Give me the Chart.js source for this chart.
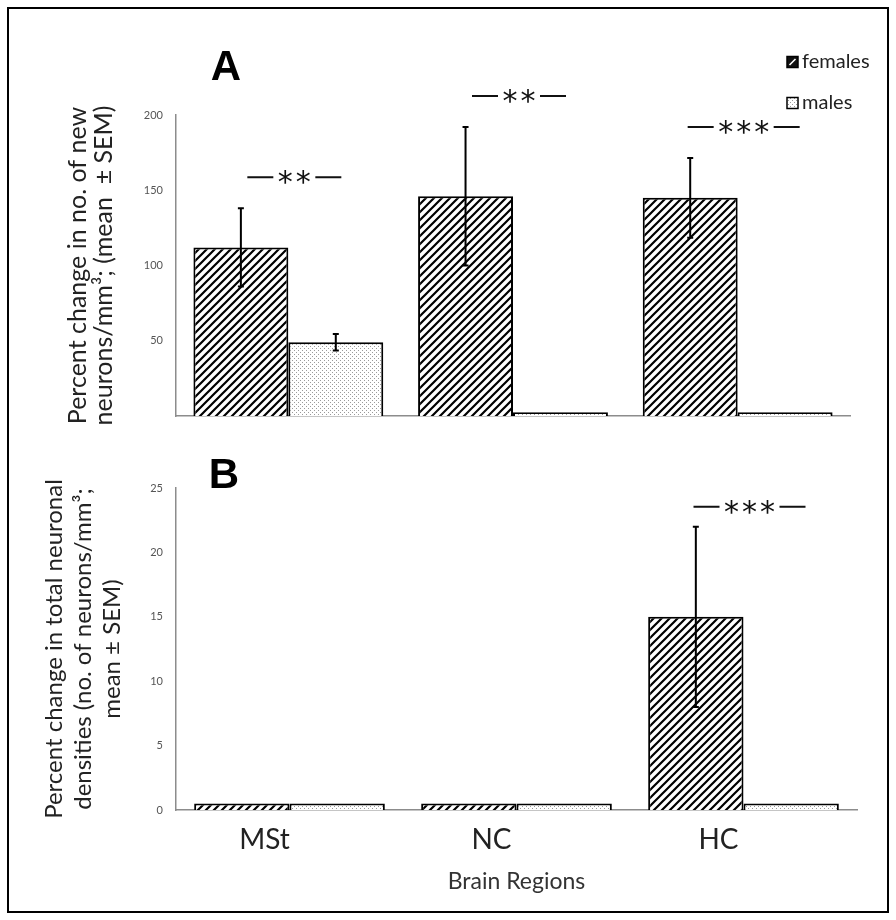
<!DOCTYPE html>
<html><head><meta charset="utf-8">
<script src="https://cdn.jsdelivr.net/npm/chart.js@4.4.1/dist/chart.umd.min.js"></script>
<style>
html,body{margin:0;padding:0;background:#fff;}
#wrap{position:relative;width:896px;height:920px;background:#fff;overflow:hidden;}
#frame{position:absolute;left:7px;top:7px;width:882px;height:906px;border:2px solid #000;box-sizing:border-box;pointer-events:none;}
#ca{position:absolute;left:0;top:0;}
#cb{position:absolute;left:0;top:440px;}
</style></head><body>
<div id="wrap">
<canvas id="ca" width="896" height="440"></canvas>
<canvas id="cb" width="896" height="480"></canvas>
<div id="frame"></div>
</div>
<script>
// ---- data ----
const categories = ['MSt', 'NC', 'HC'];
const seriesNames = ['females', 'males'];
const femalesA = [112, 146, 145];
const malesA = [49, 2.5, 2.5];
const femalesErrA = [26, 46, 26.5];
const malesErrA = [5.5, 0, 0];
const femalesB = [0.5, 0.5, 15];
const malesB = [0.5, 0.5, 0.5];
const femalesErrB = [0, 0, 7];
const malesErrB = [0, 0, 0];
const sigMarksA = ['**', '**', '***'];
const sigMarksB = ['', '', '***'];
const yTitleA = ['Percent change in no. of new', 'neurons/mm\u00B3; (mean  \u00B1 SEM)'];
const yTitleB = ['Percent change in total neuronal', 'densities (no. of neurons/mm\u00B3;', 'mean \u00B1 SEM)'];
const xTitle = 'Brain Regions';

Chart.defaults.font.family = 'Lato, "Open Sans", sans-serif';

function makeHatch() {
  const c = document.createElement('canvas'); c.width = 8; c.height = 8;
  const x = c.getContext('2d');
  x.fillStyle = '#fff'; x.fillRect(0, 0, 8, 8);
  x.strokeStyle = '#000'; x.lineWidth = 2.2;
  x.beginPath();
  x.moveTo(-1, 9); x.lineTo(9, -1);
  x.moveTo(-1, 1); x.lineTo(1, -1);
  x.moveTo(7, 9); x.lineTo(9, 7);
  x.stroke();
  return x.createPattern(c, 'repeat');
}
function makeDots() {
  const c = document.createElement('canvas'); c.width = 4; c.height = 4;
  const x = c.getContext('2d');
  x.fillStyle = '#fff'; x.fillRect(0, 0, 4, 4);
  x.fillStyle = '#9a9a9a';
  x.fillRect(0, 0, 1, 1); x.fillRect(2, 2, 1, 1);
  return x.createPattern(c, 'repeat');
}
const hatch = makeHatch();
const dots = makeDots();

const errorBars = {
  id: 'errorBars',
  afterDatasetsDraw(chart) {
    const ctx = chart.ctx, y = chart.scales.y;
    chart.data.datasets.forEach((ds, i) => {
      const meta = chart.getDatasetMeta(i);
      meta.data.forEach((bar, j) => {
        const e = ds.errors[j]; if (!e) return;
        const v = ds.data[j];
        const yt = y.getPixelForValue(v + e), yb = y.getPixelForValue(v - e);
        ctx.save(); ctx.strokeStyle = '#000'; ctx.lineWidth = 2;
        ctx.beginPath();
        ctx.moveTo(bar.x, yt); ctx.lineTo(bar.x, yb);
        ctx.moveTo(bar.x - 3, yt); ctx.lineTo(bar.x + 3, yt);
        ctx.moveTo(bar.x - 3, yb); ctx.lineTo(bar.x + 3, yb);
        ctx.stroke(); ctx.restore();
      });
    });
  }
};

function drawStars(ctx, cx, cy, n) {
  ctx.save();
  ctx.font = '30px "DejaVu Sans"';
  ctx.fillStyle = '#111'; ctx.strokeStyle = '#111'; ctx.lineWidth = 2;
  const m = ctx.measureText('*');
  const s = 18;
  const groupW = (n - 1) * s;
  ctx.textAlign = 'center'; ctx.textBaseline = 'alphabetic';
  for (let k = 0; k < n; k++) {
    const sx = cx - groupW / 2 + k * s;
    ctx.fillText('*', sx, cy + (m.actualBoundingBoxAscent - m.actualBoundingBoxDescent) / 2);
  }
  const half = groupW / 2 + 12;
  ctx.beginPath();
  ctx.moveTo(cx - half - 26, cy); ctx.lineTo(cx - half, cy);
  ctx.moveTo(cx + half, cy); ctx.lineTo(cx + half + 26, cy);
  ctx.stroke();
  ctx.restore();
}

const sigPlugin = {
  id: 'sig',
  afterDatasetsDraw(chart, args, opts) {
    const ctx = chart.ctx, y = chart.scales.y, x = chart.scales.x;
    (opts.marks || []).forEach((mk, j) => {
      if (!mk) return;
      let top = Infinity;
      chart.data.datasets.forEach((ds) => {
        const v = ds.data[j] + (ds.errors[j] || 0);
        top = Math.min(top, y.getPixelForValue(v));
      });
      drawStars(ctx, x.getPixelForValue(j) + 6, top - opts.gap, mk.length);
    });
  }
};

const decor = {
  id: 'decor',
  afterDraw(chart, args, opts) {
    const ctx = chart.ctx;
    ctx.save();
    ctx.font = 'bold 42px "Liberation Sans", Arial, sans-serif';
    ctx.fillStyle = '#000'; ctx.textAlign = 'center'; ctx.textBaseline = 'middle';
    ctx.fillText(opts.letter, opts.lx, opts.ly);
    if (opts.legend) {
      ctx.font = '20px Lato, sans-serif';
      ctx.textAlign = 'left'; ctx.textBaseline = 'middle';
      chart.data.datasets.forEach((ds, i) => {
        const ly = opts.legendY + i * 41;
        const bx = 787, by = ly - 5.5, bs = 11;
        ctx.fillStyle = ds.legendIcon;
        ctx.fillRect(bx, by, bs, bs);
        if (i === 0) {
          ctx.strokeStyle = '#fff'; ctx.lineWidth = 1.6;
          ctx.beginPath(); ctx.moveTo(bx + 2.5, by + bs - 2.5); ctx.lineTo(bx + bs - 2.5, by + 2.5); ctx.stroke();
        }
        ctx.strokeStyle = '#000'; ctx.lineWidth = 1.5;
        ctx.strokeRect(bx, by, bs, bs);
        ctx.fillStyle = '#222';
        ctx.fillText(ds.label, 802, ly);
      });
    }
    ctx.restore();
  }
};

function axisBorder() { return { color: '#8c8c8c', width: 1.5 }; }

const chartA = new Chart(document.getElementById('ca'), {
  type: 'bar',
  data: {
    labels: categories,
    datasets: [
      { label: seriesNames[0], data: femalesA, errors: femalesErrA, backgroundColor: hatch, borderColor: '#000', borderWidth: 2, legendIcon: '#111' },
      { label: seriesNames[1], data: malesA, errors: malesErrA, backgroundColor: dots, borderColor: '#000', borderWidth: 2, legendIcon: dots }
    ]
  },
  options: {
    responsive: false, animation: false,
    categoryPercentage: 0.845, barPercentage: 1,
    layout: { padding: { left: 0, right: 46, top: 115, bottom: 24 } },
    plugins: {
      legend: { display: false }, tooltip: { enabled: false },
      sig: { marks: sigMarksA, gap: 31 },
      decor: { letter: 'A', lx: 226, ly: 68, legend: true, legendY: 62 }
    },
    scales: {
      x: {
        grid: { display: false, drawTicks: false }, border: axisBorder(),
        ticks: { display: false },
        afterFit(s) { s.height = 0; }
      },
      y: {
        min: 0, max: 200,
        grid: { display: false, drawTicks: false }, border: axisBorder(),
        ticks: { stepSize: 50, padding: 13, color: '#555', font: { size: 11 }, callback: (v) => (v === 0 ? '' : v) },
        title: { display: true, text: yTitleA, color: '#222', font: { size: 25, lineHeight: 1.05 }, padding: { top: 65, bottom: 0 } },
        afterFit(s) { s.width = 176; }
      }
    }
  },
  plugins: [errorBars, sigPlugin, decor]
});

const chartB = new Chart(document.getElementById('cb'), {
  type: 'bar',
  data: {
    labels: categories,
    datasets: [
      { label: seriesNames[0], data: femalesB, errors: femalesErrB, backgroundColor: hatch, borderColor: '#000', borderWidth: 2, legendIcon: '#111' },
      { label: seriesNames[1], data: malesB, errors: malesErrB, backgroundColor: dots, borderColor: '#000', borderWidth: 2, legendIcon: dots }
    ]
  },
  options: {
    responsive: false, animation: false,
    categoryPercentage: 0.84, barPercentage: 1,
    layout: { padding: { left: 0, right: 39, top: 48, bottom: 10 } },
    plugins: {
      legend: { display: false }, tooltip: { enabled: false },
      sig: { marks: sigMarksB, gap: 20 },
      decor: { letter: 'B', lx: 224, ly: 36, legend: false }
    },
    scales: {
      x: {
        grid: { display: false, drawTicks: false }, border: axisBorder(),
        ticks: { padding: 13, color: '#222', font: { size: 28 }, labelOffset: -25 },
        title: { display: true, text: xTitle, color: '#333', font: { size: 23, lineHeight: 1.2 }, padding: { top: 0, bottom: 15 } },
        afterFit(s) { s.height = 100; }
      },
      y: {
        min: 0, max: 25,
        grid: { display: false, drawTicks: false }, border: axisBorder(),
        ticks: { stepSize: 5, padding: 13, color: '#555', font: { size: 11 } },
        title: { display: true, text: yTitleB, color: '#222', font: { size: 24, lineHeight: 1.2 }, padding: { top: 40, bottom: 0 } },
        afterFit(s) { s.width = 176; }
      }
    }
  },
  plugins: [errorBars, sigPlugin, decor]
});
</script>
</body></html>
